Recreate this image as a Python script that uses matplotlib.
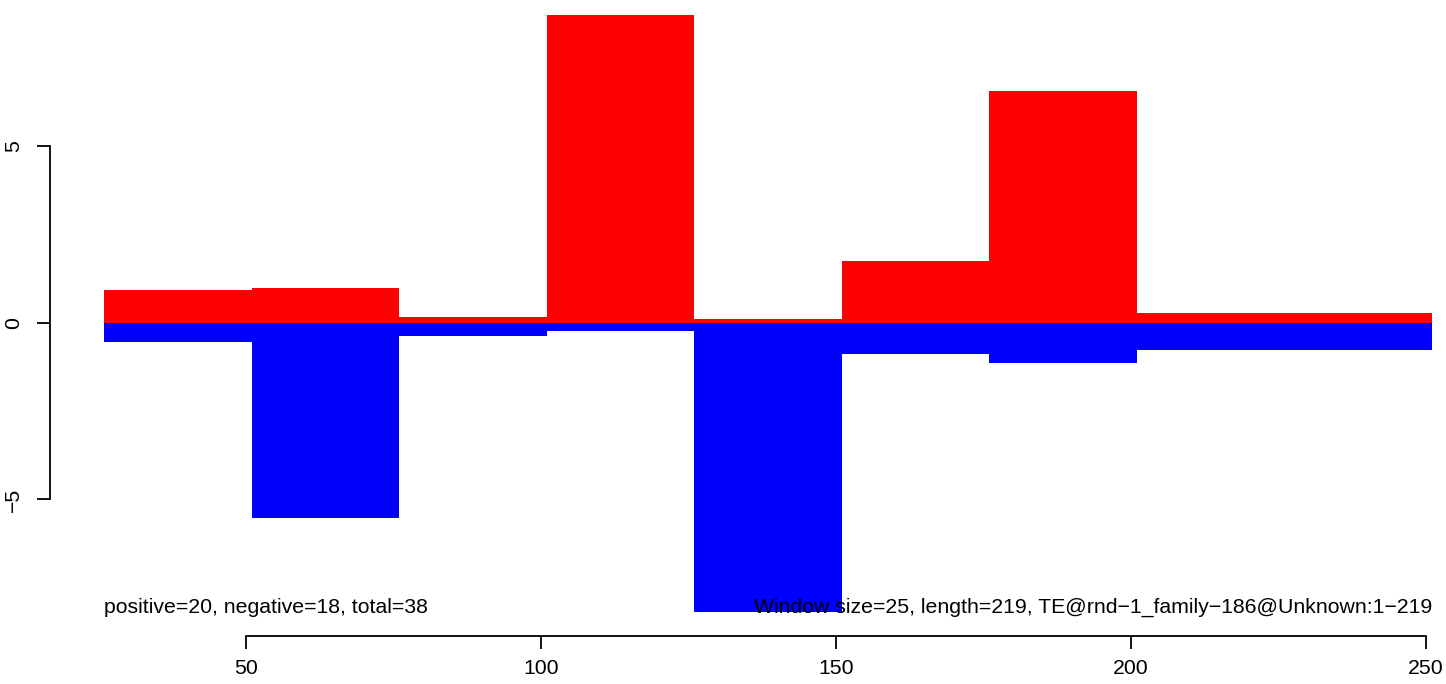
import numpy as np
import matplotlib.pyplot as plt

plt.rcParams['font.family'] = ['Liberation Sans', 'DejaVu Sans']

# window starts (bins of width 25) and per-window sums
win_start = [26, 51, 76, 101, 126, 151, 176, 201, 226]
win_width = 25
pos_vals = [0.93, 0.99, 0.17, 8.72, 0.11, 1.76, 6.57, 0.28, 0.28]
neg_vals = [-0.54, -5.52, -0.37, -0.23, -8.19, -0.88, -1.13, -0.76, -0.76]
xticks = [50, 100, 150, 200, 250]
yticks = [-5, 0, 5]

W, H = 1446, 684
fig = plt.figure(figsize=(W / 100, H / 100), dpi=100)
ax = fig.add_axes([50 / W, (H - 636) / H, 1 - 50 / W, 636 / H])
ax.set_xlim(16.78, 253.39)
ax.set_ylim(-8.87, 9.15)

ax.bar(win_start, pos_vals, width=win_width, align='edge', color='#ff0000', linewidth=0)
ax.bar(win_start, neg_vals, width=win_width, align='edge', color='#0000ff', linewidth=0)

for s in ['top', 'right']:
    ax.spines[s].set_visible(False)
ax.spines['left'].set_bounds(-5, 5)
ax.spines['bottom'].set_bounds(50, 250)
for s in ['left', 'bottom']:
    ax.spines[s].set_linewidth(1.3)
ax.set_xticks(xticks)
ax.set_yticks(yticks)
ax.set_xticklabels([str(t) for t in xticks])
ax.set_yticklabels([str(t).replace('-', '\u2212') for t in yticks], rotation=90, va='center')
ax.tick_params(axis='both', direction='out', length=9.3, width=1.3, labelsize=15.3)
ax.tick_params(axis='x', pad=7)
ax.tick_params(axis='y', pad=10)

ax.text(26, -8.05, 'positive=20, negative=18, total=38', fontsize=15.3,
        ha='left', va='center', zorder=5)
ax.text(251, -8.05, 'Window size=25, length=219, TE@rnd\u22121_family\u2212186@Unknown:1\u2212219',
        fontsize=15.3, ha='right', va='center', zorder=5)

fig.savefig('out.png', dpi=100)
